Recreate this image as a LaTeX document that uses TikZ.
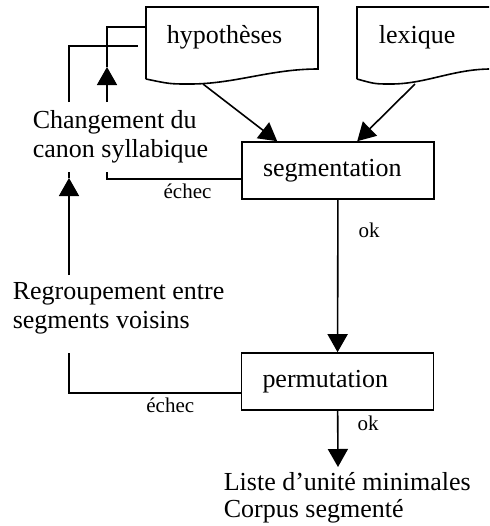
\documentclass[tikz,border=0pt]{standalone}
\usepackage{fontspec}
\setmainfont{Liberation Serif}
\usetikzlibrary{arrows.meta,calc}
\tikzstyle{stepbox} = [draw,minimum height=28.5pt,text width=75pt,align=left,inner xsep=10.5pt,inner ysep=0pt,font=\fontsize{13}{14.5}\selectfont]
\tikzstyle{doctext} = [inner sep=0pt,anchor=base west,font=\fontsize{13}{14.5}\selectfont]
\tikzstyle{note} = [inner sep=0pt,align=left,anchor=north west,font=\fontsize{13}{14.5}\selectfont]
\tikzstyle{small} = [inner sep=0pt,font=\fontsize{10.5}{12}\selectfont]
\tikzstyle{arr} = [-{Triangle[width=10pt,length=9pt]}]

\begin{document}
\begin{tikzpicture}[x=0.5pt,y=-0.5pt,line width=0.8pt]
			\clip (0,0) rectangle (489,526);
			
			% documents
			\draw (146,79) -- (146,7) -- (318,7) -- (318,69) .. controls (270,69) and (235,84) .. (190,84) .. controls (170,84) .. (146,79);
			\draw (357,79) -- (357,7) -- (491,7) -- (491,69) .. controls (453,69) and (426,84) .. (391,84) .. controls (375,84) .. (357,79);
			\node[doctext] (hyp) at (166,43) {hypothèses};
			\node[doctext] (lex) at (378,43) {lexique};
			\coordinate (hypout) at (203,84);
			\coordinate (lexout) at (415,84);
			\coordinate (hypin1) at (146,27);
			\coordinate (hypin2) at (138,46);
			
			% steps
			\node[stepbox] (seg) at (338,170.5) {segmentation};
			\node[stepbox] (perm) at (337.5,381.5) {permutation};
			\coordinate (fin) at (338,467);
			
			% texts
			\node[note] (chg) at (32,110) {Changement du\\canon syllabique};
			\node[note] (regr) at (12,282) {Regroupement entre\\segments voisins};
			\node[note,font=\fontsize{13}{13.5}\selectfont] (liste) at (223,472) {Liste d’unité minimales\\Corpus segmenté};
			\coordinate (chgtop) at (107,102);
			\coordinate (chgbot) at (107,172);
			\coordinate (regtop) at (69,275);
			\coordinate (regbot) at (69,353);
			
			\draw[arr] (hypout) -- ($(seg.north west)+(36,0)$);
			\draw[arr] (lexout) -- ($(seg.north west)+(116,0)$);
			\draw[arr] (seg) -- node[small,pos=0.2,anchor=west,xshift=10pt] {ok} (perm);
			\draw[arr] (perm) -- node[small,pos=0.23,anchor=west,xshift=9.5pt] {ok} (fin);
			
			% echec loops
			\draw ($(seg.west)+(0,8.5)$) -- node[small,pos=0.4,below=2pt] {échec} (chgbot |- 0,179) -- (chgbot);
			\draw[arr] (chgtop) -- (107,67);
			\draw (107,67) -- (chgtop |- hypin1) -- (hypin1);
			
			\draw ($(perm.west)+(0,11.5)$) -- node[small,pos=0.41,below=2pt] {échec} (regbot |- 0,393) -- (regbot);
			\draw[arr] (regtop) -- (69,178);
			\draw (69,178) -- (69,172);
			\draw (69,102) -- (69,46) -- (hypin2);
			
			\end{tikzpicture}
\end{document}
